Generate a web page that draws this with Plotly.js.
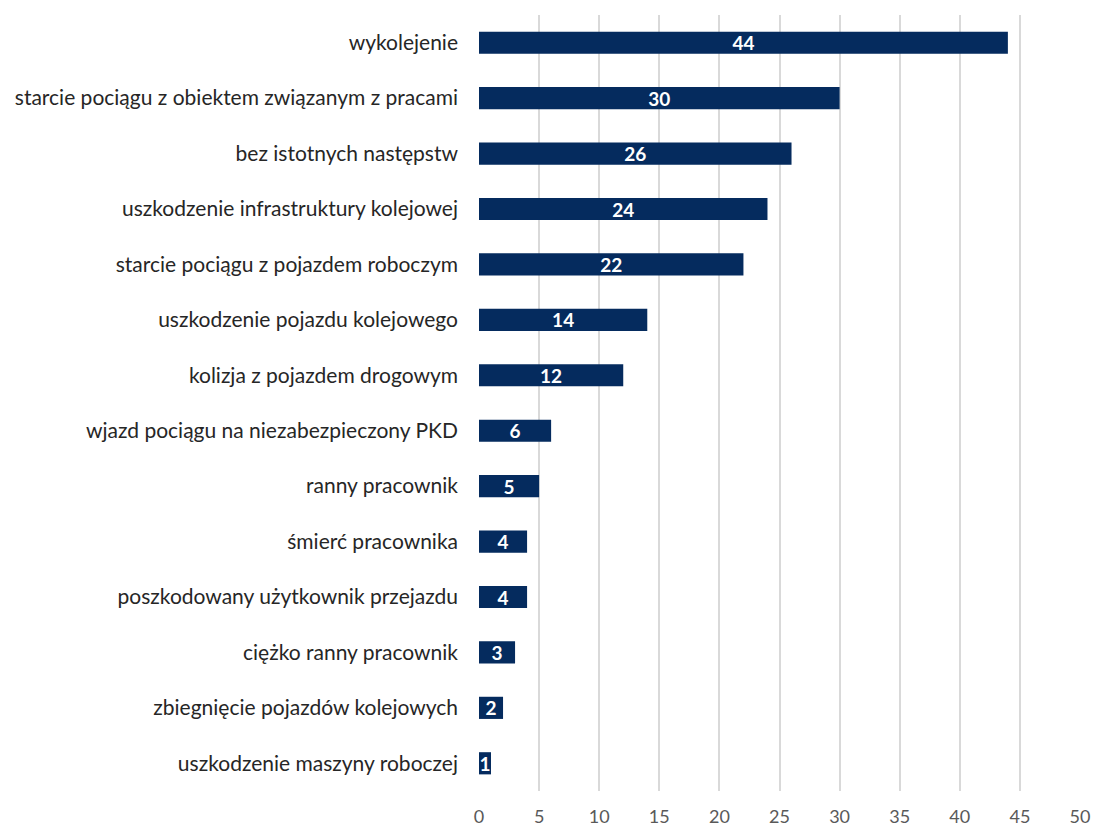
<!DOCTYPE html>
<html>
<head>
<meta charset="utf-8">
<script src="https://cdn.plot.ly/plotly-3.0.1.min.js"></script>
<style>html,body{margin:0;padding:0;background:#fff;}#chart{width:1093px;height:827px;}</style>
</head>
<body>
<div id="chart"></div>
<script>
const categories = [
  "wykolejenie",
  "starcie pociągu z obiektem związanym z pracami",
  "bez istotnych następstw",
  "uszkodzenie infrastruktury kolejowej",
  "starcie pociągu z pojazdem roboczym",
  "uszkodzenie pojazdu kolejowego",
  "kolizja z pojazdem drogowym",
  "wjazd pociągu na niezabezpieczony PKD",
  "ranny pracownik",
  "śmierć pracownika",
  "poszkodowany użytkownik przejazdu",
  "ciężko ranny pracownik",
  "zbiegnięcie pojazdów kolejowych",
  "uszkodzenie maszyny roboczej"
];
const values = [44, 30, 26, 24, 22, 14, 12, 6, 5, 4, 4, 3, 2, 1];
const tickValues = [0, 5, 10, 15, 20, 25, 30, 35, 40, 45, 50];

const trace = {
  type: 'bar',
  orientation: 'h',
  x: values,
  y: categories,
  marker: {color: '#052b5e'},
  width: 0.4,
  text: values.map(String),
  textposition: 'inside',
  insidetextanchor: 'middle',
  textangle: 0,
  constraintext: 'none',
  textfont: {family: 'Lato', size: 19, color: '#ffffff', weight: 'bold'},
  cliponaxis: false,
  hoverinfo: 'none'
};

const layout = {
  width: 1093,
  height: 827,
  margin: {l: 479, r: 13, t: 15, b: 36},
  paper_bgcolor: '#ffffff',
  plot_bgcolor: '#ffffff',
  showlegend: false,
  font: {family: 'Lato', size: 21, color: '#262626'},
  xaxis: {
    range: [0, 50],
    tickvals: tickValues,
    ticktext: tickValues.map(String),
    showgrid: true,
    gridcolor: '#d9d9d9',
    gridwidth: 2,
    zeroline: false,
    showline: false,
    ticks: '',
    ticklabelstandoff: 13,
    tickfont: {family: 'Lato', size: 18, color: '#595959'},
    fixedrange: true
  },
  yaxis: {
    categoryorder: 'array',
    categoryarray: categories.slice().reverse(),
    autorange: true,
    showgrid: false,
    zeroline: false,
    showline: false,
    ticks: '',
    ticklabelstandoff: 20,
    tickfont: {family: 'Lato', size: 21, color: '#262626'},
    fixedrange: true
  }
};

Plotly.newPlot('chart', [trace], layout, {displayModeBar: false, staticPlot: true});
</script>
</body>
</html>
